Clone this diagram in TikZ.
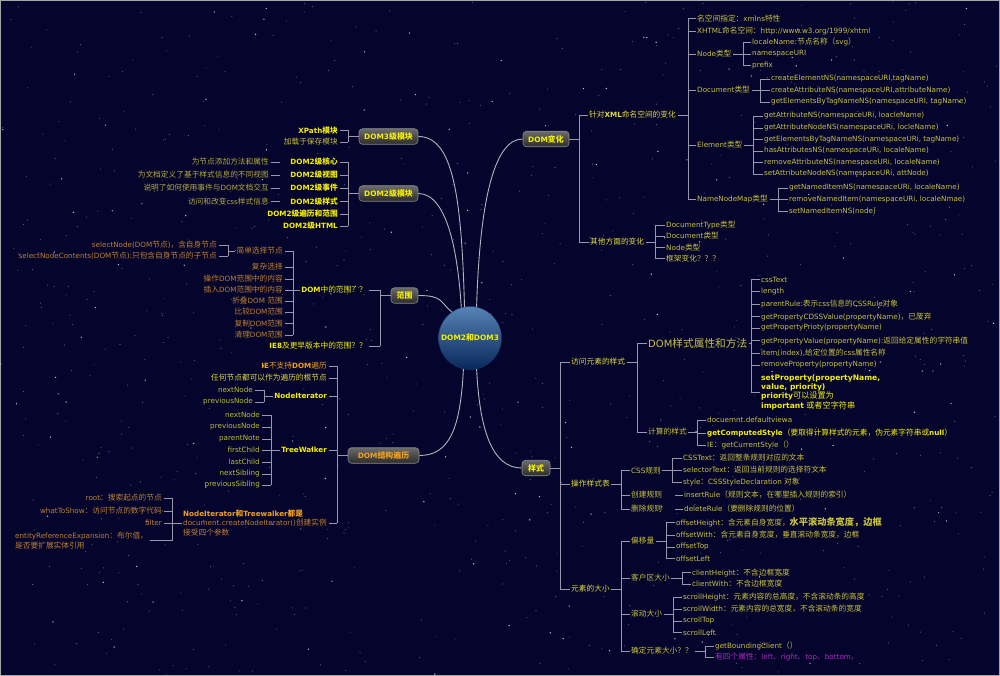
\documentclass[tikz,border=0pt]{standalone}
\usepackage{fontspec}
\setmainfont{DejaVu Sans}
\newfontfamily\cjk[Scale=1.07]{Noto Sans CJK SC}
\XeTeXinterchartokenstate=1
\newXeTeXintercharclass\CJKcls
\makeatletter
\count@="3000
\loop\XeTeXcharclass\count@=\CJKcls \advance\count@ by 1 \ifnum\count@<"3040 \repeat
\count@="4E00
\loop\XeTeXcharclass\count@=\CJKcls \advance\count@ by 1 \ifnum\count@<"A000 \repeat
\count@="FF00
\loop\XeTeXcharclass\count@=\CJKcls \advance\count@ by 1 \ifnum\count@<"FFF0 \repeat
\makeatother
\XeTeXinterchartoks 0 \CJKcls = {\begingroup\cjk}
\XeTeXinterchartoks 4095 \CJKcls = {\begingroup\cjk}
\XeTeXinterchartoks \CJKcls 0 = {\endgroup}
\XeTeXinterchartoks \CJKcls 4095 = {\endgroup}

\definecolor{bgc}{HTML}{04042C}
\definecolor{ylw}{HTML}{F5F000}
\definecolor{ylw2}{HTML}{E2DC3A}
\definecolor{olv}{HTML}{C9C23C}
\definecolor{dsc}{HTML}{B4AA3C}
\definecolor{org}{HTML}{BE8030}
\definecolor{brg}{HTML}{F0A020}
\definecolor{grn}{HTML}{BCC030}
\definecolor{prp}{HTML}{B028C0}
\definecolor{lnc}{HTML}{9898A8}
\definecolor{mlc}{HTML}{B4B4BC}
\definecolor{bxt}{HTML}{6A6A6A}
\definecolor{bxb}{HTML}{2C2C2C}
\definecolor{bdc}{HTML}{8A8A8A}
\definecolor{hubt}{HTML}{5684B4}
\definecolor{hubb}{HTML}{08275A}
\definecolor{hubd}{HTML}{1A3A6A}

\newcommand\fsz{\fontsize{7.2}{9.2}\selectfont}
\newcommand\fszb{\fontsize{7.4}{9}\selectfont}
\newcommand\fszl{\fontsize{10}{12}\selectfont}

\newcommand\mybrR[5]{%
  \draw[ln] (#1.east) -- (#1.east -| #2);
  \draw[ln] (#3.west -| #2) -- (#4.west -| #2);
  \foreach \nn in {#5}{\draw[ln] (\nn.west -| #2) -- (\nn.west);}
}
\newcommand\mybrL[5]{%
  \draw[ln] (#1.west) -- (#1.west -| #2);
  \draw[ln] (#3.east -| #2) -- (#4.east -| #2);
  \foreach \nn in {#5}{\draw[ln] (\nn.east -| #2) -- (\nn.east);}
}

\tikzset{
  ln/.style={draw=lnc, line width=0.6pt},
  mainln/.style={draw=mlc, line width=0.9pt},
  tx/.style={inner sep=1.5pt, font=\fsz, text=olv},
  tR/.style={tx, anchor=west},
  tL/.style={tx, anchor=east},
  bd/.style={font=\fsz\bfseries, text=ylw},
  branch/.style={draw=bdc, line width=0.6pt, rounded corners=3.5pt, top color=bxt, bottom color=bxb, minimum height=15.5pt, inner sep=2pt, font=\fszb\bfseries, text=ylw},
  hub/.style={circle, draw=hubd, top color=hubt, bottom color=hubb, minimum size=63pt, inner sep=0pt, font=\fszb\bfseries, text=ylw},
}

\begin{document}
\begin{tikzpicture}[x=1pt,y=-1pt]
\useasboundingbox (0,0) rectangle (1000,676);
\fill[bgc] (0,0) rectangle (1000,676);
\pgfmathsetseed{4242}
\foreach \i in {1,...,700}{\fill[white,opacity=0.4] (rnd*1000,rnd*676) circle (0.55);}
\foreach \i in {1,...,140}{\fill[white,opacity=0.8] (rnd*1000,rnd*676) circle (0.7);}
\draw[gray!70, line width=0.8pt] (0.5,0.5) rectangle (999.5,675.5);

% hub and branches
\node[hub] (root) at (470,338) {DOM2和DOM3};
\node[branch, minimum width=46pt] (dv) at (546,139) {DOM变化};
\node[branch, minimum width=28pt] (ys) at (536,468) {样式};
\node[branch, minimum width=59pt] (d3) at (388.5,136.5) {DOM3级模块};
\node[branch, minimum width=59pt] (d2) at (388.5,193.5) {DOM2级模块};
\node[branch, minimum width=27pt] (fw) at (404.5,295.5) {范围};
\node[branch, minimum width=71pt, text=brg] (bl) at (383.5,455.5) {DOM结构遍历};

\draw[mainln] (root.78) .. controls +(3,-100) and +(-30,0) .. (dv.west);
\draw[mainln] (d3.east) .. controls +(35,0) and +(-3,-110) .. (root.100);
\draw[mainln] (d2.east) .. controls +(30,0) and +(-3,-50) .. (root.106);
\draw[mainln] (fw.east) .. controls +(25,0) and +(-12,-10) .. (root.125);
\draw[mainln] (root.-78) .. controls +(3,60) and +(-30,0) .. (ys.west);
\draw[mainln] (bl.east) .. controls +(30,0) and +(-3,60) .. (root.-102);

% ===== DOM变化 =====
\coordinate (B1) at (579,0);
\node[tR,text=ylw2] (xml) at (587.5,115) {针对{\bfseries XML}命名空间的变化};
\node[tR,text=ylw2] (oth) at (588.5,242) {其他方面的变化};
\mybrR{dv}{B1}{xml}{oth}{xml,oth}

\coordinate (B2) at (688,0);
\node[tR] (x1) at (695.5,18.5) {名空间指定：xmlns特性};
\node[tR] (x2) at (695.5,31) {XHTML命名空间：http://www.w3.org/1999/xhtml};
\node[tR] (x3) at (695.5,54) {Node类型};
\node[tR] (x4) at (695.5,90) {Document类型};
\node[tR] (x5) at (695.5,145) {Element类型};
\node[tR] (x6) at (695.5,199) {NameNodeMap类型};
\mybrR{xml}{B2}{x1}{x6}{x1,x2,x3,x4,x5,x6}

\coordinate (B3) at (743,0);
\node[tR] (n1) at (750.5,42) {localeName:节点名称（svg）};
\node[tR] (n2) at (750.5,54) {namespaceURI};
\node[tR] (n3) at (750.5,65.5) {prefix};
\mybrR{x3}{B3}{n1}{n3}{n1,n2,n3}

\coordinate (B4) at (760,0);
\node[tR] (dc1) at (769.5,79) {createElementNS(namespaceURI,tagName)};
\node[tR] (dc2) at (769.5,90.5) {createAttributeNS(namespaceURI,attributeName)};
\node[tR] (dc3) at (769.5,102) {getElementsByTagNameNS(namespaceURI, tagName)};
\mybrR{x4}{B4}{dc1}{dc3}{dc1,dc2,dc3}

\coordinate (B5) at (753,0);
\node[tR] (e1) at (762.5,116) {getAttributeNS(namespaceURi, loacleName)};
\node[tR] (e2) at (762.5,128) {getAttributeNodeNS(namespaceURi, locleName)};
\node[tR] (e3) at (762.5,139.5) {getElementsByTagNameNS(namespaceURi, tagName)};
\node[tR] (e4) at (762.5,151) {hasAttributesNS(namespaceURi, localeName)};
\node[tR] (e5) at (762.5,162.5) {removeAttributeNS(namespaceURi, localeName)};
\node[tR] (e6) at (762.5,174) {setAttributeNodeNS(namespaceURi, attNode)};
\mybrR{x5}{B5}{e1}{e6}{e1,e2,e3,e4,e5,e6}

\coordinate (B6) at (778,0);
\node[tR] (m1) at (787.5,188) {getNamedItemNS(namespaceURi, localeName)};
\node[tR] (m2) at (787.5,199.5) {removeNamedItem(namespaceURi, localeNmae)};
\node[tR] (m3) at (787.5,211) {setNamedItemNS(node)};
\mybrR{x6}{B6}{m1}{m3}{m1,m2,m3}

\coordinate (B7) at (655,0);
\node[tR] (q21) at (664.5,225) {DocumentType类型};
\node[tR] (q22) at (664.5,236) {Document类型};
\node[tR] (q23) at (664.5,247.5) {Node类型};
\node[tR] (q24) at (664.5,258.5) {框架变化？？？};
\mybrR{oth}{B7}{q21}{q24}{q21,q22,q23,q24}

% ===== 样式 =====
\coordinate (S1) at (560,0);
\node[tR,text=ylw2] (fs) at (569.5,362) {访问元素的样式};
\node[tR,text=ylw2] (cz) at (569.5,484) {操作样式表};
\node[tR,text=ylw2] (dx) at (569.5,589) {元素的大小};
\mybrR{ys}{S1}{fs}{dx}{fs,cz,dx}

\coordinate (S2) at (637,0);
\node[tR,font=\fszl] (dm) at (646.5,343) {DOM样式属性和方法};
\node[tR] (js) at (646.5,432) {计算的样式};
\mybrR{fs}{S2}{dm}{js}{dm,js}

\coordinate (S3) at (751,0);
\node[tR] (p1) at (759.5,279.5) {cssText};
\node[tR] (p2) at (759.5,291.5) {length};
\node[tR] (p3) at (759.5,304) {parentRule:表示css信息的CSSRule对象};
\node[tR] (p4) at (759.5,316.5) {getPropertyCDSSValue(propertyName)，已废弃};
\node[tR] (p5) at (759.5,328) {getPropertyPrioty(propertyName)};
\node[tR] (p6) at (759.5,340.5) {getPropertyValue(propertyName):返回给定属性的字符串值};
\node[tR] (p7) at (759.5,353) {item(index),给定位置的css属性名称};
\node[tR] (p8) at (759.5,365) {removeProperty(propertyName)};
\node[tR, text=ylw, align=left, font=\fontsize{7.6}{9.3}\selectfont] (p9) at (759.5,392) {{\bfseries setProperty(propertyName,}\\{\bfseries value, priority)}\\{\bfseries priority}可以设置为\\{\bfseries important} 或者空字符串};
\mybrR{dm}{S3}{p1}{p9}{p1,p2,p3,p4,p5,p6,p7,p8,p9}

\coordinate (S4) at (697,0);
\node[tR] (c1) at (705.5,420) {docuemnt.defaultviewa};
\node[tR,text=ylw] (c2) at (705.5,433) {{\bfseries getComputedStyle}（要取得计算样式的元素，伪元素字符串或{\bfseries null}）};
\node[tR] (c3) at (705.5,445) {IE：getCurrentStyle（）};
\mybrR{js}{S4}{c1}{c3}{c1,c2,c3}

\coordinate (S5) at (621,0);
\node[tR] (r1) at (629.5,470.5) {CSS规则};
\node[tR] (r2) at (629.5,495) {创建规则};
\node[tR] (r3) at (629.5,509) {删除规则};
\mybrR{cz}{S5}{r1}{r3}{r1,r2,r3}

\coordinate (S6) at (672,0);
\node[tR] (s1) at (681.5,458) {CSSText：返回整条规则对应的文本};
\node[tR] (s2) at (681.5,470) {selectorText：返回当前规则的选择符文本};
\node[tR] (s3) at (681.5,482) {style：CSSStyleDeclaration 对象};
\mybrR{r1}{S6}{s1}{s3}{s1,s2,s3}
\node[tR] (ir) at (682.5,495) {insertRule（规则文本，在哪里插入规则的索引）};
\node[tR] (dr) at (682.5,509) {deleteRule（要删除规则的位置）};
\draw[ln, shorten <=11pt] (r2.east) -- (ir.west);
\draw[ln, shorten <=11pt] (r3.east) -- (dr.west);

\node[tR] (o0) at (629.5,541) {偏移量};
\node[tR] (k0) at (629.5,578) {客户区大小};
\node[tR] (g0) at (629.5,614) {滚动大小};
\node[tR] (q0) at (629.5,651) {确定元素大小？？};
\mybrR{dx}{S5}{o0}{q0}{o0,k0,g0,q0}

\coordinate (S8) at (666,0);
\node[tR] (o1) at (674.5,522.5) {offsetHeight：含元素自身宽度，{\fontsize{8.6}{9}\selectfont\bfseries 水平滚动条宽度，边框}};
\node[tR] (o2) at (674.5,535) {offsetWith：含元素自身宽度，垂直滚动条宽度，边框};
\node[tR] (o3) at (674.5,547) {offsetTop};
\node[tR] (o4) at (674.5,558.5) {offsetLeft};
\mybrR{o0}{S8}{o1}{o4}{o1,o2,o3,o4}

\coordinate (S9) at (682,0);
\node[tR] (k1) at (690.5,572.5) {clientHeight：不含边框宽度};
\node[tR] (k2) at (690.5,584) {clientWith：不含边框宽度};
\mybrR{k0}{S9}{k1}{k2}{k1,k2}

\coordinate (S10) at (673,0);
\node[tR] (g1) at (681.5,597) {scrollHeight：元素内容的总高度，不含滚动条的高度};
\node[tR] (g2) at (681.5,609) {scrollWidth：元素内容的总宽度，不含滚动条的宽度};
\node[tR] (g3) at (681.5,621) {scrollTop};
\node[tR] (g4) at (681.5,632.5) {scrollLeft};
\mybrR{g0}{S10}{g1}{g4}{g1,g2,g3,g4}

\coordinate (S11) at (705,0);
\node[tR] (qq1) at (713.5,646) {getBoundingClient（）};
\node[tR,text=prp] (qq2) at (713.5,657.5) {有四个属性：left、right、top、bottom。};
\mybrR{q0}{S11}{qq1}{qq2}{qq1,qq2}

% ===== DOM3 / DOM2 =====
\coordinate (L1) at (348,0);
\node[tL,bd] (t1) at (339.5,130.5) {XPath模块};
\node[tL] (t2) at (339.5,142) {加载于保存模块};
\mybrL{d3}{L1}{t1}{t2}{t1,t2}

\node[tL,bd] (u1) at (339.5,162) {DOM2级核心};
\node[tL,bd] (u2) at (339.5,175) {DOM2级视图};
\node[tL,bd] (u3) at (339.5,188) {DOM2级事件};
\node[tL,bd] (u4) at (339.5,201.5) {DOM2级样式};
\node[tL,bd] (u5) at (339.5,214) {DOM2级遍历和范围};
\node[tL,bd] (u6) at (339.5,226) {DOM2级HTML};
\mybrL{d2}{L1}{u1}{u6}{u1,u2,u3,u4,u5,u6}

\node[tL,text=dsc] (w1) at (270.5,162) {为节点添加方法和属性};
\node[tL,text=dsc] (w2) at (270.5,175) {为文档定义了基于样式信息的不同视图};
\node[tL,text=dsc] (w3) at (270.5,188) {说明了如何使用事件与DOM文档交互};
\node[tL,text=dsc] (w4) at (270.5,201.5) {访问和改变css样式信息};
\foreach \k in {1,2,3,4}{\draw[ln, shorten >=9pt] (w\k.east) -- (u\k.west);}

% ===== 范围 =====
\coordinate (L3) at (380,0);
\node[tL,text=ylw] (ra) at (368.5,290) {{\bfseries DOM}中的范围？？};
\node[tL,text=ylw] (rb) at (368.5,346) {{\bfseries IE8}及更早版本中的范围？？};
\mybrL{fw}{L3}{ra}{rb}{ra,rb}

\coordinate (L4) at (293,0);
\node[tL,text=org] (a1) at (284.5,251) {简单选择节点};
\node[tL,text=org] (a2) at (284.5,267) {复杂选择};
\node[tL,text=org] (a3) at (284.5,279) {操作DOM范围中的内容};
\node[tL,text=org] (a4) at (284.5,290) {插入DOM范围中的内容};
\node[tL,text=org] (a5) at (284.5,301) {折叠DOM 范围};
\node[tL,text=org] (a6) at (284.5,312) {比较DOM范围};
\node[tL,text=org] (a7) at (284.5,323.5) {复制DOM范围};
\node[tL,text=org] (a8) at (284.5,335) {清理DOM范围};
\mybrL{ra}{L4}{a1}{a8}{a1,a2,a3,a4,a5,a6,a7,a8}

\coordinate (L5) at (228,0);
\node[tL,text=org] (a11) at (218.5,245) {selectNode(DOM节点)，含自身节点};
\node[tL,text=org] (a12) at (218.5,256) {selectNodeContents(DOM节点):只包含自身节点的子节点};
\mybrL{a1}{L5}{a11}{a12}{a11,a12}

% ===== DOM结构遍历 =====
\coordinate (L6) at (337,0);
\node[tL,text=brg] (h1) at (328.5,366) {{\bfseries IE}不支持{\bfseries DOM}遍历};
\node[tL,text=ylw2] (h2) at (328.5,378) {任何节点都可以作为遍历的根节点};
\node[tL,bd] (h3) at (328.5,396) {NodeIterator};
\node[tL,bd] (h4) at (328.5,450) {TreeWalker};
\node[tR,text=org,align=left] (h5) at (181.5,523) {{\bfseries\color{brg}NodeIterator和Treewalker都是}\\document.createNodeIterator()创建实例\\接受四个参数};
\mybrL{bl}{L6}{h1}{h5}{h1,h2,h3,h4,h5}

\coordinate (L7) at (264,0);
\node[tL,text=grn] (i1) at (254.5,390) {nextNode};
\node[tL,text=grn] (i2) at (254.5,402) {previousNode};
\mybrL{h3}{L7}{i1}{i2}{i1,i2}

\coordinate (L8) at (271,0);
\node[tL,text=grn] (j1) at (261.5,415) {nextNode};
\node[tL,text=grn] (j2) at (261.5,427) {previousNode};
\node[tL,text=grn] (j3) at (261.5,439) {parentNote};
\node[tL,text=grn] (j4) at (261.5,450) {firstChild};
\node[tL,text=grn] (j5) at (261.5,462) {lastChild};
\node[tL,text=grn] (j6) at (261.5,474) {nextSibling};
\node[tL,text=grn] (j7) at (261.5,485) {previousSibling};
\mybrL{h4}{L8}{j1}{j7}{j1,j2,j3,j4,j5,j6,j7}

\coordinate (L9) at (172,0);
\node[tL,text=org] (f1) at (163.5,498) {root：搜索起点的节点};
\node[tL,text=org] (f2) at (163.5,511) {whatToShow：访问节点的数字代码};
\node[tL,text=org] (f3) at (163.5,523) {filter};
\node[tR,text=org,align=left] (f4) at (13.5,540.5) {entityReferenceExpansion：布尔值，\\是否要扩展实体引用};
\mybrL{h5}{L9}{f1}{f4}{f1,f2,f3,f4}
\end{tikzpicture}
\end{document}
